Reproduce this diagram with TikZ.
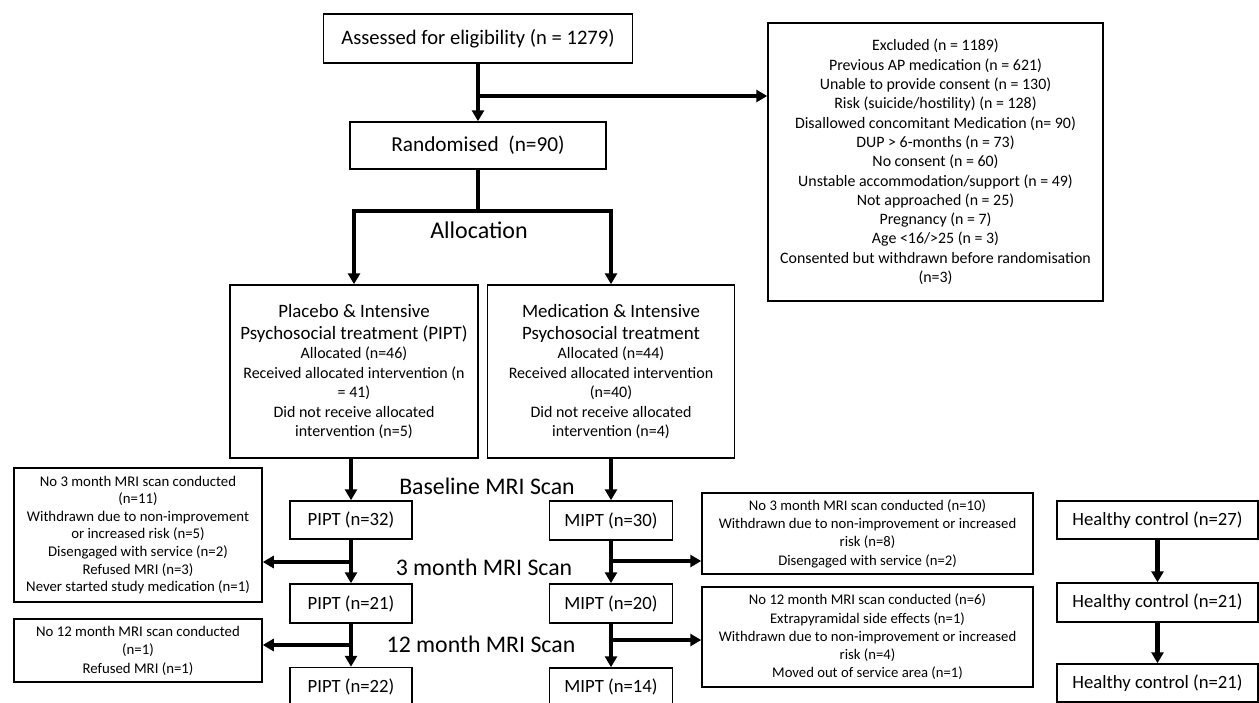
\documentclass[tikz,border=0pt]{standalone}
\usepackage{fontspec}
\setmainfont{Carlito}
\usetikzlibrary{arrows.meta}
\begin{document}
\begin{tikzpicture}[x=1pt,y=-1pt,
  box/.style={draw=black, line width=1.5pt, align=center, inner sep=0pt},
  big/.style={font=\fontsize{20.6}{24}\selectfont},
  mid/.style={font=\fontsize{18.7}{22}\selectfont},
  small/.style={font=\fontsize{15.9}{19.3}\selectfont},
  tiny/.style={font=\fontsize{14.7}{18.3}\selectfont},
  lab/.style={font=\fontsize{23.8}{26}\selectfont, inner sep=0pt},
  thick line/.style={line width=4.3pt},
  conn/.style={line width=4.3pt, -{Triangle[width=12pt,length=11pt]}}
]
\useasboundingbox (0,0) rectangle (1259,702);
\clip (0,0) rectangle (1259,702);
\fill[white] (0,0) rectangle (1259,702);

% top
\node[box, big, minimum width=309pt, minimum height=49pt] (assess) at (478,38.5) {Assessed for eligibility (n = 1279)};
\node[box, font=\fontsize{21.3}{24}\selectfont, minimum width=256pt, minimum height=47pt] (rand) at (478,145.5) {Randomised\ \ (n=90)};
\node[box, small, minimum width=335pt, minimum height=278pt] (excl) at (935.5,162)
  {\raisebox{7pt}{\parbox{330pt}{\centering
  Excluded (n = 1189)\\
  Previous AP medication (n = 621)\\
  Unable to provide consent (n = 130)\\
  Risk (suicide/hostility) (n = 128)\\
  Disallowed concomitant Medication (n= 90)\\
  DUP > 6-months (n = 73)\\
  No consent (n = 60)\\
  Unstable accommodation/support (n = 49)\\
  Not approached (n = 25)\\
  Pregnancy (n = 7)\\
  Age <16/>25 (n = 3)\\
  Consented but withdrawn before randomisation\\
  (n=3)}}};

% allocation groups
\node[box, minimum width=248pt, minimum height=173pt] (pipt) at (354,371.5)
  {\parbox{244pt}{\centering\fontsize{18.9}{21.7}\selectfont Placebo \& Intensive\\ Psychosocial treatment (PIPT)\par
   \fontsize{16}{19.5}\selectfont Allocated (n=46)\\ Received allocated intervention (n\\ = 41)\\ Did not receive allocated\\ intervention (n=5)\par}};
\node[box, minimum width=247pt, minimum height=173pt] (mipt) at (611,371.5)
  {\parbox{243pt}{\centering\fontsize{18.9}{21.7}\selectfont Medication \& Intensive\\ Psychosocial treatment\par
   \fontsize{16}{19.5}\selectfont Allocated (n=44)\\ Received allocated intervention\\ (n=40)\\ Did not receive allocated\\ intervention (n=4)\par}};

% PIPT column
\node[box, mid, minimum width=122pt, minimum height=38pt] (p32) at (351,520) {PIPT (n=32)};
\node[box, mid, minimum width=122pt, minimum height=39pt] (p21) at (351,603.5) {PIPT (n=21)};
\node[box, mid, minimum width=122pt, minimum height=38pt] (p22) at (351,686.5) {PIPT (n=22)};

% MIPT column
\node[box, mid, minimum width=123pt, minimum height=39pt] (m30) at (611,520.5) {MIPT (n=30)};
\node[box, mid, minimum width=123pt, minimum height=39pt] (m20) at (611,603.5) {MIPT (n=20)};
\node[box, mid, minimum width=123pt, minimum height=38pt] (m14) at (611,687) {MIPT (n=14)};

% healthy control column
\node[box, mid, minimum width=201pt, minimum height=38pt] (hc27) at (1157.5,520) {Healthy control (n=27)};
\node[box, mid, minimum width=201pt, minimum height=39pt] (hc21) at (1157.5,602.5) {Healthy control (n=21)};
\node[box, mid, minimum width=201pt, minimum height=38pt] (hc21b) at (1157.5,683) {Healthy control (n=21)};

% side boxes
\node[box, font=\fontsize{14.8}{17.6}\selectfont, minimum width=248pt, minimum height=134pt] (l1) at (138,535)
  {No 3 month MRI scan conducted\\ (n=11)\\ Withdrawn due to non-improvement\\ or increased risk (n=5)\\ Disengaged with service (n=2)\\ Refused MRI (n=3)\\ Never started study medication (n=1)};
\node[box, font=\fontsize{14.8}{18.5}\selectfont, minimum width=248pt, minimum height=63pt] (l2) at (138,650.5)
  {No 12 month MRI scan conducted\\ (n=1)\\ Refused MRI (n=1)};
\node[box, tiny, minimum width=331pt, minimum height=81pt] (r1) at (867.5,533.5)
  {No 3 month MRI scan conducted (n=10)\\ Withdrawn due to non-improvement or increased\\ risk (n=8)\\ Disengaged with service (n=2)};
\node[box, tiny, minimum width=331pt, minimum height=100pt] (r2) at (867.5,637)
  {No 12 month MRI scan conducted (n=6)\\ Extrapyramidal side effects (n=1)\\ Withdrawn due to non-improvement or increased\\ risk (n=4)\\ Moved out of service area (n=1)};

% labels
\node[lab, font=\fontsize{24}{26}\selectfont] (alloc) at (479,230) {Allocation};
\node[lab] (base) at (487,486) {Baseline MRI Scan};
\node[lab] (m3) at (484,567) {3 month MRI Scan};
\node[lab] (m12) at (481,644) {12 month MRI Scan};

% connectors: top
\coordinate (bx) at (478,96);
\draw[conn] (assess.south) -- (rand.north);
\draw[conn] (bx) -- (bx -| excl.west);

% allocation split
\coordinate (aM) at (478,211);
\coordinate (aL) at (354,211);
\coordinate (aR) at (611,211);
\draw[thick line] (rand.south) -- (aM);
\draw[thick line, line cap=rect] (aL) -- (aR);
\draw[conn] (aL) -- (pipt.north);
\draw[conn] (aR) -- (mipt.north);

% PIPT column connectors
\coordinate (pb1) at (351,562);
\coordinate (pb2) at (351,645);
\draw[conn] (pipt.south -| p32.north) -- (p32.north);
\draw[conn] (p32.south) -- (p21.north);
\draw[conn] (pb1) -- (pb1 -| l1.east);
\draw[conn] (p21.south) -- (p22.north);
\draw[conn] (pb2) -- (pb2 -| l2.east);

% MIPT column connectors
\coordinate (mb1) at (611,561);
\coordinate (mb2) at (611,640);
\draw[conn] (mipt.south) -- (m30.north);
\draw[conn] (m30.south) -- (m20.north);
\draw[conn] (mb1) -- (mb1 -| r1.west);
\draw[conn] (m20.south) -- (m14.north);
\draw[conn] (mb2) -- (mb2 -| r2.west);

% healthy control connectors
\draw[conn] (hc27.south) -- (hc21.north);
\draw[conn] (hc21.south) -- (hc21b.north);
\end{tikzpicture}
\end{document}
